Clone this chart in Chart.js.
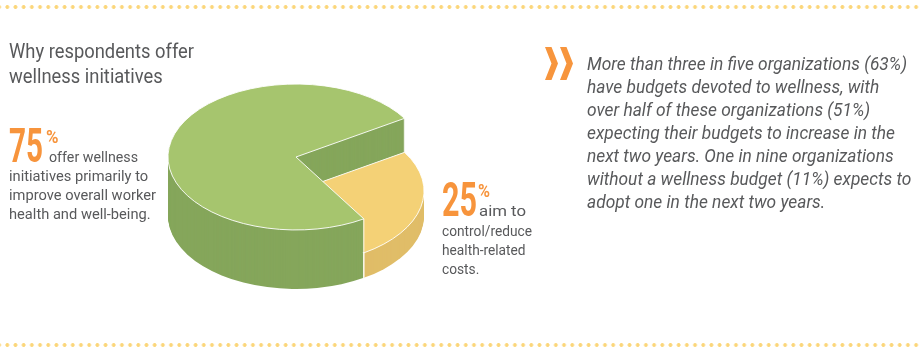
<!DOCTYPE html>
<html>
<head>
<meta charset="utf-8">
<script src="https://cdn.jsdelivr.net/npm/chart.js@4.4.1/dist/chart.umd.min.js"></script>
<style>
  html, body { margin: 0; padding: 0; background: #fff; }
  #wrap { position: relative; width: 922px; height: 353px; overflow: hidden; font-family: Roboto, "Noto Sans", sans-serif; color: #58595b; }
  #pie { position: absolute; left: 0; top: 0; }
  .dots { position: absolute; left: 0; width: 922px; height: 4px;
    background-image: radial-gradient(circle at center, #fbd67a 0 1.6px, rgba(251,214,122,0) 2.2px);
    background-size: 8.2px 4px; background-position: 3.2px 0; background-repeat: repeat-x; }
  .txt { position: absolute; white-space: nowrap; transform-origin: 0 0; }
  #chev { position: absolute; left: 0; top: 0; }
</style>
</head>
<body>
<div id="wrap">
  <div class="dots" style="top:4.7px"></div>
  <div class="dots" style="top:342.5px"></div>
  <canvas id="pie" width="922" height="353"></canvas>
  <svg id="chev" width="922" height="353">
    <polygon fill="#f7953d" points="545,47 551.5,47 558,63.5 551.5,80 545,80 551.5,63.5"/>
    <polygon fill="#f7953d" points="560,47 566.5,47 573,63.5 566.5,80 560,80 566.5,63.5"/>
  </svg>
</div>
<script>
// Why respondents offer wellness initiatives
const labels = ['Improve overall worker health and well-being', 'Control/reduce health-related costs'];
const shares = [75, 25];
const topColors = ['#a6c56e', '#f4d176'];
const sideColors = ['#85a65b', '#e0bd68'];

const orange = '#f7943c';
const wrap = document.getElementById('wrap');

// the pie drawn as a tilted, extruded disc from the arc elements Chart.js lays out
const pie3d = {
    id: 'pie3d',
    beforeDatasetsDraw(chart, args, opts) {
        const ctx = chart.ctx;
        const arcs = chart.getDatasetMeta(0).data.map(a =>
            a.getProps(['x', 'y', 'startAngle', 'endAngle', 'outerRadius'], true));
        const tops = chart.data.datasets[0].backgroundColor;
        const h = opts.heights;
        const maxH = Math.max(...h);

        const wedge = (a, cy) => {
            ctx.beginPath();
            ctx.moveTo(a.x, cy);
            ctx.ellipse(a.x, cy, a.outerRadius, a.outerRadius * opts.tilt, 0, a.startAngle, a.endAngle);
            ctx.closePath();
        };

        ctx.save();
        for (let lv = 0; lv <= maxH; lv++) {
            arcs.forEach((a, i) => {
                if (lv > h[i]) return;
                wedge(a, a.y + maxH - lv);
                if (lv < h[i]) {
                    ctx.fillStyle = opts.sideColors[i];
                    ctx.fill();
                } else {
                    ctx.fillStyle = tops[i];
                    ctx.fill();
                    ctx.strokeStyle = opts.edgeColor;
                    ctx.lineWidth = 1;
                    ctx.stroke();
                }
            });
        }
        // vertical edges that face the viewer
        ctx.strokeStyle = opts.edgeColor;
        ctx.lineWidth = 1;
        arcs.forEach((a, i) => {
            [a.startAngle, a.endAngle].forEach(ang => {
                if (Math.sin(ang) <= 0.01) return;
                const px = a.x + a.outerRadius * Math.cos(ang);
                const dy = a.outerRadius * opts.tilt * Math.sin(ang);
                ctx.beginPath();
                ctx.moveTo(px, a.y + maxH - h[i] + dy);
                ctx.lineTo(px, a.y + maxH + dy);
                ctx.stroke();
            });
        });
        ctx.restore();
        return false;
    }
};

new Chart(document.getElementById('pie'), {
    type: 'pie',
    data: {
        labels: labels,
        datasets: [{
            data: shares,
            backgroundColor: topColors,
            borderWidth: 0,
            hoverOffset: 0,
            offset: 0
        }]
    },
    options: {
        responsive: false,
        animation: false,
        events: [],
        rotation: 148,
        layout: { padding: { left: 168, right: 498, top: 29, bottom: 68 } },
        plugins: {
            legend: { display: false },
            tooltip: { enabled: false },
            pie3d: { tilt: 0.57, heights: [59, 25], sideColors: sideColors, edgeColor: 'rgba(255,255,255,0.9)' }
        }
    },
    plugins: [pie3d]
});

// text blocks, placed by baseline and squeezed to the reference widths
function put(lines, o) {
    const el = document.createElement('div');
    el.className = 'txt';
    const lh = o.lh || o.size;
    el.style.fontSize = o.size + 'px';
    el.style.lineHeight = lh + 'px';
    el.style.fontWeight = o.weight || 400;
    el.style.fontStyle = o.italic ? 'italic' : 'normal';
    el.style.color = o.color || '#58595b';
    lines.forEach(t => {
        const d = document.createElement('div');
        const s = document.createElement('span');
        s.textContent = t;
        d.appendChild(s);
        el.appendChild(d);
    });
    wrap.appendChild(el);
    const base = (lh - 1.1719 * o.size) / 2 + 0.9277 * o.size;
    el.style.left = o.x + 'px';
    el.style.top = (o.baseline - base) + 'px';
    if (o.width) {
        const w = el.children[o.fit || 0].firstChild.getBoundingClientRect().width;
        el.style.transform = 'scaleX(' + (o.width / w) + ')';
    }
}

put(['Why respondents offer', 'wellness initiatives'], { x: 9, baseline: 58.3, size: 21, lh: 25, width: 185 });

put([String(shares[0])], { x: 9, baseline: 162, size: 48, weight: 700, color: orange, width: 34 });
put(['%'], { x: 45.5, baseline: 143, size: 18, weight: 700, color: orange, width: 12.5 });
put(['offer wellness'], { x: 49, baseline: 162.7, size: 15, width: 89 });
put(['initiatives primarily to', 'improve overall worker', 'health and well-being.'],
    { x: 9, baseline: 181.7, size: 15, lh: 18.8, fit: 1, width: 147 });

put([String(shares[1])], { x: 442, baseline: 216.7, size: 48, weight: 700, color: orange, width: 35 });
put(['%'], { x: 477.5, baseline: 197, size: 18, weight: 700, color: orange, width: 12 });
put(['aim to'], { x: 479, baseline: 216.7, size: 15, width: 47 });
put(['control/reduce', 'health-related', 'costs.'], { x: 442, baseline: 236.7, size: 15, lh: 19.2, width: 90 });

put([
    'More than three in five organizations (63%)',
    'have budgets devoted to wellness, with',
    'over half of these organizations (51%)',
    'expecting their budgets to increase in the',
    'next two years. One in nine organizations',
    'without a wellness budget (11%) expects to',
    'adopt one in the next two years.'
], { x: 587, baseline: 70.7, size: 17.5, lh: 22.9, italic: true, width: 320 });
</script>
</body>
</html>
